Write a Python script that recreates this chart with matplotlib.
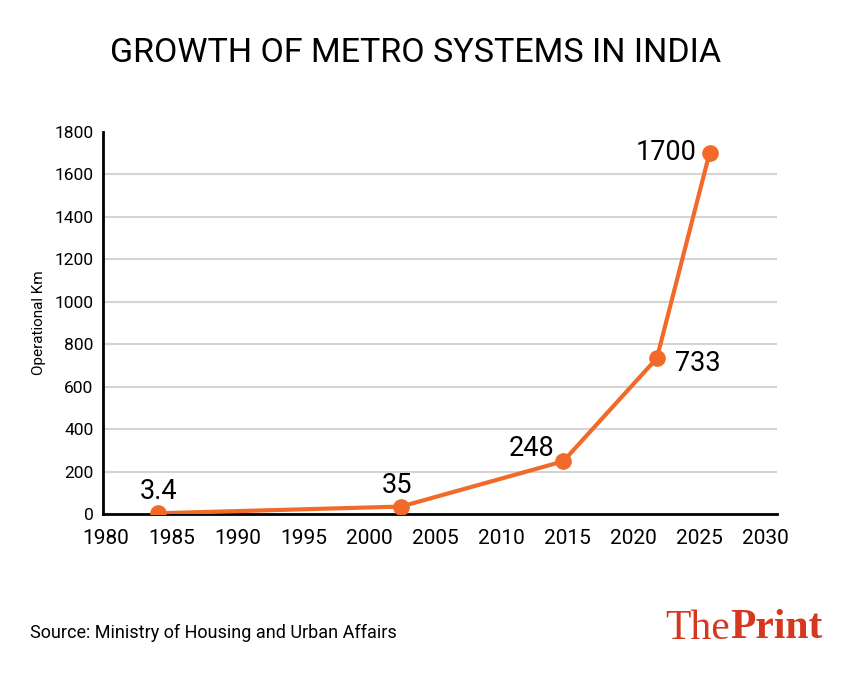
import matplotlib.pyplot as plt

# data
years = [1984, 2002.4, 2014.7, 2021.8, 2025.8]
km = [3.4, 35, 248, 733, 1700]
labels = ["3.4", "35", "248", "733", "1700"]
label_offsets = [(0, 22), (-4, 21), (-32, 13), (41, -5), (-43, 0)]

x_ticks = list(range(1980, 2031, 5))
y_ticks = list(range(0, 1801, 200))

ORANGE = "#F26A2A"
FONT = ["Roboto", "DejaVu Sans"]
plt.rcParams["font.family"] = FONT

fig = plt.figure(figsize=(8.49, 6.75), dpi=100)
ax = fig.add_axes([0.1213, 0.2385, 0.7937, 0.5665])

ax.plot(years, km, color=ORANGE, lw=3, marker="o", ms=11, zorder=3,
        solid_capstyle="round")

for x, y, t, (dx, dy) in zip(years, km, labels, label_offsets):
    ax.annotate(t, (x, y), xytext=(dx, dy), textcoords="offset pixels",
                ha="center", va="center", fontsize=19.5)

ax.set_xlim(1979.8, 2030.9)
ax.set_ylim(0, 1800)
ax.set_xticks(x_ticks)
ax.set_yticks(y_ticks)
ax.set_xticklabels([str(v) for v in x_ticks], fontsize=15)
ax.set_yticklabels([str(v) for v in y_ticks], fontsize=12.5)
ax.tick_params(length=0, pad=7)
ax.tick_params(axis="x", pad=11)

for v in y_ticks[1:-1]:
    ax.axhline(v, color="#d4d4d4", lw=1.5, zorder=1)

for s in ["top", "right"]:
    ax.spines[s].set_visible(False)
for s in ["left", "bottom"]:
    ax.spines[s].set_linewidth(2)

ax.set_ylabel("Operational Km", fontsize=11, labelpad=6)

fig.text(0.49, 0.922, "GROWTH OF METRO SYSTEMS IN INDIA", ha="center", va="center",
         fontsize=24.5, fontweight="normal")
fig.text(0.035, 0.062, "Source: Ministry of Housing and Urban Affairs", ha="left",
         va="center", fontsize=13)
fig.text(0.86, 0.069, "The", ha="right", va="center", fontsize=30,
         family="Liberation Serif", color="#D6371F")
fig.text(0.86, 0.069, "Print", ha="left", va="center", fontsize=30,
         family="Liberation Serif", fontweight="bold", color="#D6371F")

fig.savefig("out.png", dpi=100)
